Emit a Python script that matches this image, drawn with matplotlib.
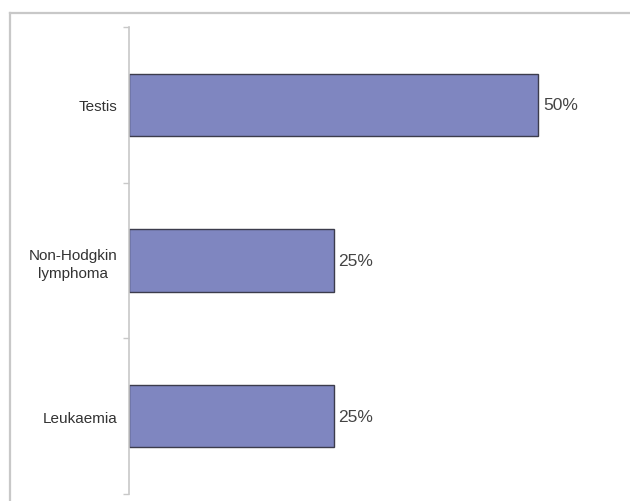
import matplotlib.pyplot as plt
from matplotlib.lines import Line2D

# Data
categories = ['Testis', 'Non-Hodgkin\nlymphoma', 'Leukaemia']
values = [50, 25, 25]
value_labels = ['50%', '25%', '25%']

plt.rcParams['font.family'] = ['Liberation Sans', 'DejaVu Sans']

fig = plt.figure(figsize=(6.3, 5.02), dpi=100)

# Light gray outer frame: only top and left edges show in the original
fx = 9.5 / 630
fy = 1 - 13.5 / 502
fig.lines.append(Line2D([fx, 1.05], [fy, fy], transform=fig.transFigure,
                        color='#c8c8c8', linewidth=1.6))
fig.lines.append(Line2D([fx, fx], [-0.05, fy], transform=fig.transFigure,
                        color='#c8c8c8', linewidth=1.6))

ax = fig.add_axes([129 / 630, 7 / 502, (620 - 129) / 630, (495 - 28) / 502])

pos = list(range(len(categories)))
ax.barh(pos, values, height=0.4, color='#7f86c0', edgecolor='#3c3c4c',
        linewidth=1.0)

for p, v, lab in zip(pos, values, value_labels):
    ax.text(v + 0.6, p, lab, va='center', ha='left', fontsize=12.5,
            color='#444444')

ax.set_xlim(0, 60)
ax.set_ylim(2.5, -0.5)

ax.set_yticks(pos)
ax.set_yticklabels(categories, fontsize=11, color='#333333',
                   multialignment='center', linespacing=1.35)
ax.set_yticks([-0.5, 0.5, 1.5, 2.5], minor=True)
ax.tick_params(axis='y', which='major', length=0, pad=8.5)
ax.tick_params(axis='y', which='minor', length=4, color='#c8c8c8', width=1)
ax.set_xticks([])

for s in ['top', 'right', 'bottom']:
    ax.spines[s].set_visible(False)
ax.spines['left'].set_color('#c8c8c8')
ax.spines['left'].set_linewidth(1.2)

fig.savefig('out.png', dpi=100)
